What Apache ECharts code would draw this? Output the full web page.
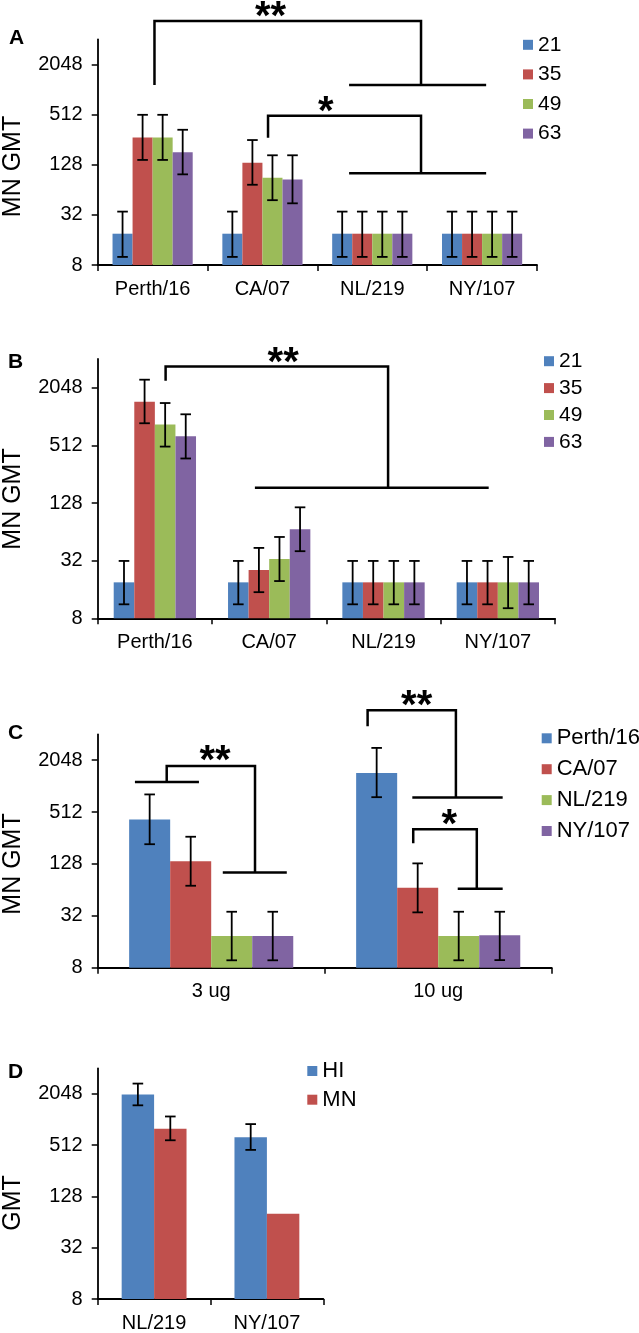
<!DOCTYPE html>
<html><head><meta charset="utf-8">
<script src="https://cdn.jsdelivr.net/npm/echarts@6/dist/echarts.min.js"></script>
<style>html,body{margin:0;padding:0;background:#fff}#c{width:639px;height:1333px}</style>
</head><body><div id="c"></div>
<script>
// ---------------- data ----------------
const virusCats = ['Perth/16', 'CA/07', 'NL/219', 'NY/107'];
const dayNames = ['21', '35', '49', '63'];
const doseCats = ['3 ug', '10 ug'];
const assayNames = ['HI', 'MN'];
const dCats = ['NL/219', 'NY/107'];
const yTickValues = [8, 32, 128, 512, 2048];

// Panel A
const aDay21 = [19, 19, 19, 19];
const aDay35 = [272, 135, 19, 19];
const aDay49 = [272, 89, 19, 19];
const aDay63 = [180, 85, 19, 19];
const aErr21 = [[10, 35], [10, 35], [10, 35], [10, 35]];
const aErr35 = [[146, 508], [73.5, 253], [10, 35], [10, 35]];
const aErr49 = [[146, 508], [48, 166], [10, 35], [10, 35]];
const aErr63 = [[98, 336], [44, 166], [10, 35], [10, 35]];

// Panel B
const bDay21 = [19, 19, 19, 19];
const bDay35 = [1467, 25.5, 19, 19];
const bDay49 = [845, 33.4, 19, 19];
const bDay63 = [639, 68, 19, 19];
const bErr21 = [[11.2, 31.8], [11.2, 31.8], [11.2, 31.8], [11.2, 31.8]];
const bErr35 = [[873, 2490], [15, 43.5], [11.2, 31.8], [11.2, 31.8]];
const bErr49 = [[498, 1420], [19.6, 56.6], [11.2, 31.8], [10.2, 35]];
const bErr63 = [[374, 1083], [40.2, 115.5], [11.2, 31.8], [11.2, 31.8]];

// Panel C (series = virus, categories = dose)
const cPerth = [421, 1458];
const cCA = [138, 67.7];
const cNL = [18.7, 18.7];
const cNY = [18.7, 19];
const cErrPerth = [[217, 821], [763, 2846]];
const cErrCA = [[71.5, 265], [35.1, 130]];
const cErrNL = [[9.75, 35.7], [9.75, 35.7]];
const cErrNY = [[9.75, 35.7], [9.8, 35.7]];

// Panel D
const dHI = [2020, 634];
const dMN = [798, 80];
const dErrHI = [[1505, 2710], [451, 906]];
const dErrMN = [[585, 1113], null];

// Significance brackets: x in category units (category i spans i..i+1), y in GMT values
const bracketsA = [
  { lines: [[[0.517, 1160], [0.517, 6800], [2.944, 6800], [2.944, 1160]], [[2.289, 1160], [3.537, 1160]]], text: '**', at: [1.574, 9300] },
  { lines: [[[1.551, 270], [1.551, 494], [2.944, 494], [2.944, 101]], [[2.289, 101], [3.537, 101]]], text: '*', at: [2.077, 682] }
];
const bracketsB = [
  { lines: [[[0.594, 2427], [0.594, 3420], [2.54, 3420], [2.54, 185]], [[1.375, 185], [3.42, 185]]], text: '**', at: [1.622, 4530] }
];
const bracketsC = [
  { lines: [[[0.164, 1148], [0.446, 1148]], [[0.304, 1148], [0.304, 1760], [0.693, 1760], [0.693, 102]], [[0.551, 102], [0.833, 102]]], text: '**', at: [0.517, 2450] },
  { lines: [[[1.189, 5080], [1.189, 7800], [1.578, 7800], [1.578, 756]], [[1.386, 756], [1.784, 756]]], text: '**', at: [1.405, 10800] },
  { lines: [[[1.39, 222], [1.39, 324], [1.67, 324], [1.67, 66]], [[1.586, 66], [1.784, 66]]], text: '*', at: [1.549, 451] }
];

// ---------------- styling ----------------
const FONT = '"Liberation Sans", Arial, Helvetica, sans-serif';
const COLORS = ['#4F81BD', '#C0504D', '#9BBB59', '#8064A2'];

const panels = [
  { left: 97.7, top: 39.3, width: 439.3, height: 225.7, gap: 0.27, cats: virusCats },
  { left: 97.7, top: 359, width: 457.3, height: 259.3, gap: 0.28, cats: virusCats },
  { left: 97.7, top: 734.3, width: 454, height: 233.4, gap: 0.277, cats: doseCats },
  { left: 97.7, top: 1068.3, width: 225.6, height: 232.4, gap: 0.425, cats: dCats }
];

const grids = panels.map(p => ({ left: p.left, top: p.top, width: p.width, height: p.height, containLabel: false }));
const xAxes = panels.map((p, i) => ({
  type: 'category', gridIndex: i, data: p.cats,
  axisLine: { lineStyle: { color: '#000', width: 1.8 } },
  axisTick: { show: true, length: 6, lineStyle: { color: '#000', width: 1.5 } },
  axisLabel: { color: '#000', fontSize: 20, fontFamily: FONT, margin: 14 },
  splitLine: { show: false }
}));
const yAxes = panels.map((p, i) => ({
  type: 'log', logBase: 2, gridIndex: i, min: 8, max: 4096,
  axisLine: { show: true, lineStyle: { color: '#000', width: 1.8 } },
  axisTick: { show: true, length: 6, lineStyle: { color: '#000', width: 1.5 }, customValues: yTickValues },
  axisLabel: { color: '#000', fontSize: 20, fontFamily: FONT, margin: 15, customValues: yTickValues,
    formatter: v => String(Math.round(v)) },
  splitLine: { show: false }
}));

function errRender(k, count, gapFrac) {
  return function (params, api) {
    const cat = api.value(0), lo = api.value(1), hi = api.value(2);
    const pHi = api.coord([cat, hi]);
    const pLo = api.coord([cat, lo]);
    const bw = api.coord([1, hi])[0] - api.coord([0, hi])[0];
    const groupW = bw * (1 - gapFrac);
    const barW = groupW / count;
    const x = pHi[0] - groupW / 2 + barW * (k + 0.5);
    const cap = 5.3;
    const st = { stroke: '#000', lineWidth: 1.8 };
    return { type: 'group', children: [
      { type: 'line', shape: { x1: x, y1: pHi[1], x2: x, y2: pLo[1] }, style: st },
      { type: 'line', shape: { x1: x - cap, y1: pHi[1], x2: x + cap, y2: pHi[1] }, style: st },
      { type: 'line', shape: { x1: x - cap, y1: pLo[1], x2: x + cap, y2: pLo[1] }, style: st }
    ] };
  };
}

function bracketRender(list, fontSize) {
  return function (params, api) {
    const b = list[params.dataIndex];
    const toPx = (u, v) => {
      const p0 = api.coord([0, v]);
      const p1 = api.coord([1, v]);
      const bw = p1[0] - p0[0];
      return [p0[0] + (u - 0.5) * bw, p0[1]];
    };
    const children = b.lines.map(pts => ({
      type: 'polyline',
      shape: { points: pts.map(p => toPx(p[0], p[1])) },
      style: { stroke: '#000', lineWidth: 2.5, fill: 'none' }
    }));
    const t = toPx(b.at[0], b.at[1]);
    children.push({ type: 'text', x: t[0], y: t[1] + fontSize * 0.22,
      style: { text: b.text, fill: '#000', font: 'bold ' + fontSize + 'px ' + FONT, align: 'center', verticalAlign: 'middle' } });
    return { type: 'group', children };
  };
}

const series = [];
function addBars(panelIdx, names, valueArrs, errArrs) {
  const p = panels[panelIdx];
  names.forEach((nm, k) => {
    series.push({
      type: 'bar', name: nm, xAxisIndex: panelIdx, yAxisIndex: panelIdx,
      data: valueArrs[k], barGap: '0%', barCategoryGap: (p.gap * 100) + '%',
      itemStyle: { color: COLORS[k] }, clip: true, silent: true
    });
  });
  names.forEach((nm, k) => {
    const data = errArrs[k].map((e, i) => e ? [i, e[0], e[1]] : null).filter(Boolean);
    series.push({
      type: 'custom', name: 'err-' + panelIdx + '-' + k, xAxisIndex: panelIdx, yAxisIndex: panelIdx,
      data, encode: { x: 0, y: [1, 2] }, renderItem: errRender(k, names.length, p.gap), z: 5, silent: true
    });
  });
}
function addBrackets(panelIdx, list, fontSize) {
  series.push({
    type: 'custom', name: 'sig-' + panelIdx, xAxisIndex: panelIdx, yAxisIndex: panelIdx,
    data: list.map(() => [0, 8]), encode: { x: 0, y: 1 }, renderItem: bracketRender(list, fontSize),
    clip: false, z: 6, silent: true
  });
}

addBars(0, dayNames, [aDay21, aDay35, aDay49, aDay63], [aErr21, aErr35, aErr49, aErr63]);
addBars(1, dayNames, [bDay21, bDay35, bDay49, bDay63], [bErr21, bErr35, bErr49, bErr63]);
addBars(2, virusCats, [cPerth, cCA, cNL, cNY], [cErrPerth, cErrCA, cErrNL, cErrNY]);
addBars(3, assayNames, [dHI, dMN], [dErrHI, dErrMN]);
addBrackets(0, bracketsA, 40);
addBrackets(1, bracketsB, 40);
addBrackets(2, bracketsC, 40);

const legendBase = { orient: 'vertical', itemWidth: 10, itemHeight: 10, padding: 0, icon: 'rect', selectedMode: false };
const legends = [
  Object.assign({}, legendBase, { data: dayNames, left: 523, top: 34.3, itemGap: 8.6, textStyle: { fontSize: 21, lineHeight: 20, color: '#000', fontFamily: FONT } }),
  Object.assign({}, legendBase, { data: dayNames, left: 544, top: 350.7, itemGap: 5.9, textStyle: { fontSize: 21, lineHeight: 20, color: '#000', fontFamily: FONT } }),
  Object.assign({}, legendBase, { data: virusCats, left: 541.7, top: 727.3, itemGap: 8.9, textStyle: { fontSize: 22, lineHeight: 20, color: '#000', fontFamily: FONT } }),
  Object.assign({}, legendBase, { data: assayNames, left: 307.3, top: 1060, itemGap: 6.7, textStyle: { fontSize: 22, lineHeight: 20, color: '#000', fontFamily: FONT } })
];

const panelLetters = [['A', 9, 28], ['B', 8, 351.5], ['C', 8, 723], ['D', 8, 1061.5]];
const titles = panelLetters.map(l => ({ text: l[0], left: l[1], top: l[2], padding: 0,
  textStyle: { fontSize: 21, fontWeight: 'bold', color: '#000', fontFamily: FONT } }));

const yTitles = [['MN GMT', 166.5], ['MN GMT', 499], ['MN GMT', 864], ['GMT', 1203]];
const graphic = yTitles.map(t => ({ type: 'text', x: 13, y: t[1], rotation: Math.PI / 2,
  style: { text: t[0], font: '25px ' + FONT, fill: '#000', align: 'center', verticalAlign: 'middle' } }));

const chart = echarts.init(document.getElementById('c'), null, { renderer: 'canvas' });
chart.setOption({
  animation: false,
  backgroundColor: '#fff',
  title: titles,
  legend: legends,
  grid: grids,
  xAxis: xAxes,
  yAxis: yAxes,
  graphic: graphic,
  series: series
});
</script></body></html>
